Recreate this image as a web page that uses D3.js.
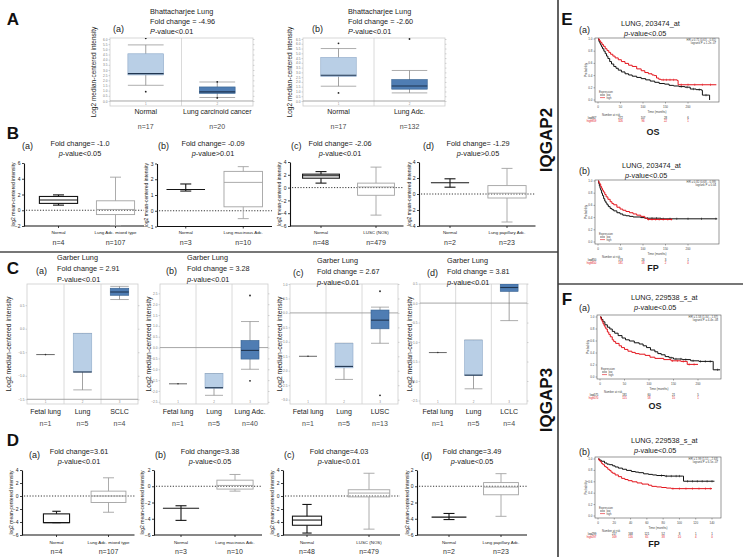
<!DOCTYPE html>
<html><head><meta charset="utf-8">
<script src="https://cdn.jsdelivr.net/npm/d3@7"></script>
<style>html,body{margin:0;padding:0;background:#fff}svg{display:block}</style>
</head><body>
<svg id="chart" width="743" height="557"></svg>
<script>
// ================= DATA =================
// ---- Panel A : Bhattacharjee Lung (Oncomine)
const catsAa = ["Normal", "Lung carcinoid cancer"];
const nAa = ["n=17", "n=20"];
const titleAa = ["Bhattacharjee Lung", "Fold change = -4.96", "P-value<0.01"];
const boxAa = [[1.52, 2.52, 2.65, 4.57, 5.43], [0.34, 0.74, 0.88, 1.36, 1.84]];
const outAa = [[6.07, 0.9], [1.86, 0.3]];
const ticksAa = [0, 0.5, 1, 1.5, 2, 2.5, 3, 3.5, 4, 4.5, 5, 5.5, 6];

const catsAb = ["Normal", "Lung Adc."];
const nAb = ["n=17", "n=132"];
const titleAb = ["Bhattacharjee Lung", "Fold change = -2.60", "P-value<0.01"];
const boxAb = [[1.55, 2.57, 2.7, 4.57, 5.5], [0.85, 1.24, 1.57, 2.25, 3.2]];
const outAb = [[6.05, 0.85], [6.5]];
const ticksAb = [0, 0.5, 1, 1.5, 2, 2.5, 3, 3.5, 4, 4.5, 5, 5.5, 6, 6.5];

// ---- Panel B (IQGAP2, GraphPad style)
const catsBa = ["Normal", "Lung Adc. mixed type"], nBa = ["n=4", "n=107"];
const titleBa = ["Fold change= -1.0", "p-value<0.05"];
const boxBa = [[0.65, 0.87, 1.3, 1.75, 1.95], [-1.95, -0.55, 0.1, 1.2, 4.2]];
const ticksBa = [-2, 0, 2, 4, 6];

const catsBb = ["Normal", "Lung mucinous Adc."], nBb = ["n=3", "n=10"];
const titleBb = ["Fold change= -0.09", "p-value>0.01"];
const boxBb = [[1.25, 1.35, 1.7], [-0.5, 0.25, 1.8, 2.5, 2.8]];
const ticksBb = [-1, 0, 1, 2, 3];

const catsBc = ["Normal", "LUSC (NOS)"], nBc = ["n=48", "n=479"];
const titleBc = ["Fold change= -2.06", "p-value<0.01"];
const boxBc = [[0.7, 1.47, 1.85, 2.1, 2.5], [-4.3, -1.2, 0.1, 0.7, 3.2]];
const ticksBc = [-6, -4, -2, 0, 2, 4];

const catsBd = ["Normal", "Lung papillary Adc."], nBd = ["n=2", "n=23"];
const titleBd = ["Fold change= -1.29", "p-value>0.05"];
const boxBd = [[0.85, 1.4, 1.9], [-3.5, -0.5, 0.1, 1.05, 3.2]];
const ticksBd = [-4, -2, 0, 2, 4];

// ---- Panel C : Garber Lung (Oncomine)
const catsCa = ["Fetal lung", "Lung", "SCLC"], nCa = ["n=1", "n=5", "n=4"];
const titleCa = ["Garber Lung", "Fold change = 2.91", "P-value<0.01"];
const boxCa = [[-0.55], [-1.3, -0.92, -0.92, -0.1, -0.1], [0.62, 0.71, 0.78, 0.86, 0.9]];
const outCa = [[], [], []];
const ticksCa = [-1.5, -1, -0.5, 0, 0.5];

const catsCb = ["Fetal lung", "Lung", "Lung Adc."], nCb = ["n=1", "n=5", "n=40"];
const titleCb = ["Garber Lung", "Fold change = 3.28", "p-value<0.01"];
const boxCb = [[-1.67], [-2.2, -1.87, -1.85, -1.2, -1.2], [-1.0, -0.53, -0.13, 0.33, 1.2]];
const outCb = [[], [], [2.4, -1.53]];
const ticksCb = [-2.5, -2, -1.5, -1, -0.5, 0, 0.5, 1, 1.5, 2, 2.5];

const catsCc = ["Fetal lung", "Lung", "LUSC"], nCc = ["n=1", "n=5", "n=13"];
const titleCc = ["Garber Lung", "Fold change = 2.67", "p-value<0.01"];
const boxCc = [[-1.5], [-2.3, -1.9, -1.85, -1.05, -1.05], [-1.05, -0.55, -0.25, 0.1, 0.2]];
const outCc = [[], [], [0.75, -2.85]];
const ticksCc = [-3, -2.5, -2, -1.5, -1, -0.5, 0, 0.5, 1];

const catsCd = ["Fetal lung", "Lung", "LCLC"], nCd = ["n=1", "n=5", "n=4"];
const titleCd = ["Garber Lung", "Fold change = 3.81", "p-value<0.01"];
const boxCd = [[-1.27], [-2.2, -1.85, -1.85, -0.95, -0.95], [-0.45, 0.3, 0.4, 0.49, 0.55]];
const outCd = [[], [], []];
const ticksCd = [-2.5, -2, -1.5, -1, -0.5, 0, 0.5];

// ---- Panel D (IQGAP3, GraphPad style)
const catsDa = ["Normal", "Lung Adc. mixed type"], nDa = ["n=4", "n=107"];
const titleDa = ["Fold change=3.61", "p-value<0.01"];
const boxDa = [[-4.1, -4.1, -4.1, -2.75, -2.35], [-2.5, -1.0, 0.0, 0.75, 2.8]];
const ticksDa = [-6, -4, -2, 0, 2, 4];

const catsDb = ["Normal", "Lung mucinous Adc."], nDb = ["n=3", "n=10"];
const titleDb = ["Fold change=3.38", "p-value<0.05"];
const boxDb = [[-4.2, -2.7, -2.4], [-0.6, -0.35, 0.1, 0.75, 1.45]];
const ticksDb = [-6, -4, -2, 0, 2];

const catsDc = ["Normal", "LUSC (NOS)"], nDc = ["n=48", "n=479"];
const titleDc = ["Fold change=4.03", "p-value<0.01"];
const boxDc = [[-5.7, -4.5, -3.7, -3.1, -1.3], [-5.1, -0.14, 0.45, 0.96, 3.5]];
const ticksDc = [-6, -4, -2, 0, 2, 4];

const catsDd = ["Normal", "Lung papillary Adc."], nDd = ["n=2", "n=23"];
const titleDd = ["Fold change=3.49", "p-value<0.05"];
const boxDd = [[-4.1, -3.8, -3.35], [-3.7, -1.05, -0.1, 0.45, 1.55]];
const ticksDd = [-6, -4, -2, 0, 2];

// ---- Panels E / F : Kaplan-Meier
const probTicks = [0, 0.2, 0.4, 0.6, 0.8, 1.0];
const timeTicksOS = [0, 50, 100, 150, 200];
const timeTicksFb = [0, 20, 40, 60, 80, 100, 120, 140];

const titleEa = ["LUNG, 203474_at", "p-value<0.05"];
const hrEa = ["HR = 0.71 (0.63 \u2212 0.81)", "logrank P = 1.2e\u221207"];
const lowEa = [[0,1],[2,0.96],[4,0.93],[6,0.9],[8,0.87],[10,0.84],[13,0.8],[16,0.76],[19,0.72],[22,0.68],[26,0.63],[30,0.59],[35,0.55],[40,0.52],[45,0.49],[52,0.46],[60,0.43],[68,0.41],[76,0.39],[86,0.37],[96,0.35],[106,0.33],[116,0.31],[126,0.29],[136,0.27],[148,0.26],[158,0.24],[168,0.23],[180,0.22],[193,0.21],[205,0.18],[218,0.17],[230,0.16],[232,0.08],[245,0.08],[248,0.0]];
const highEa = [[0,1],[3,0.97],[6,0.94],[9,0.91],[12,0.88],[16,0.84],[20,0.81],[24,0.78],[28,0.75],[33,0.72],[38,0.69],[45,0.66],[52,0.63],[60,0.6],[68,0.57],[76,0.55],[86,0.51],[96,0.48],[104,0.45],[112,0.43],[120,0.41],[125,0.4],[130,0.36],[135,0.34],[140,0.33],[176,0.32],[178,0.25],[263,0.25]];
const cenEaLow = [185, 198, 212, 225, 240];
const cenEaHigh = [145, 152, 160, 168, 185, 200, 215, 232, 250];
const riskEaLow = ["967", "272", "107", "28", "6"];
const riskEaHigh = ["959", "326", "96", "22", "1"];

const titleEb = ["LUNG, 203474_at", "p-value<0.05"];
const hrEb = ["HR = 0.82 (0.68 \u2212 0.99)", "logrank P = 0.04"];
const lowEb = [[0,1],[1.5,0.96],[3,0.92],[4.5,0.88],[6,0.85],[8,0.8],[10,0.76],[12.5,0.71],[15,0.67],[17.5,0.64],[20,0.61],[23,0.58],[27,0.55],[31,0.53],[35,0.51],[42,0.48],[49,0.46],[55,0.44],[62,0.43],[70,0.42],[78,0.41],[95,0.4],[104,0.39],[140,0.38],[265,0.38]];
const highEb = [[0,1],[2,0.97],[4,0.95],[6,0.91],[8,0.88],[10,0.85],[12,0.82],[15,0.78],[18,0.74],[22,0.7],[27,0.66],[31,0.63],[35,0.61],[42,0.57],[49,0.54],[55,0.52],[62,0.5],[70,0.48],[78,0.46],[86,0.44],[95,0.42],[104,0.39],[110,0.37],[165,0.37]];
const cenEbLow = [110, 120, 130, 145, 160, 175, 200, 230, 262];
const cenEbHigh = [112, 120, 128, 136, 145, 155, 163];
const riskEbLow = ["850", "173", "26", "3", "1"];
const riskEbHigh = ["850", "181", "18", "2", "0"];

const titleFa = ["LUNG, 229538_s_at", "p-value<0.05"];
const hrFa = ["HR = 1.58 (1.34 \u2212 1.87)", "logrank P = 4.4e\u221208"];
const lowFa = [[0,1],[3,0.96],[6,0.92],[10,0.87],[15,0.83],[20,0.8],[25,0.76],[30,0.73],[37,0.69],[45,0.65],[52,0.62],[60,0.6],[70,0.57],[80,0.55],[88,0.52],[95,0.49],[103,0.45],[112,0.42],[118,0.39],[125,0.37],[133,0.34],[141,0.32],[150,0.3],[168,0.29],[185,0.27],[202,0.26],[230,0.26],[231,0.12],[245,0.12]];
const highFa = [[0,1],[2,0.96],[4,0.93],[6,0.89],[8,0.86],[10,0.83],[12,0.8],[15,0.75],[18,0.71],[21,0.67],[25,0.62],[28,0.59],[32,0.56],[39,0.52],[44,0.49],[50,0.46],[57,0.43],[65,0.41],[72,0.39],[80,0.38],[92,0.36],[102,0.33],[112,0.31],[130,0.29],[145,0.27],[165,0.26],[178,0.21],[200,0.21]];
const cenFaLow = [145, 155, 165, 175, 190, 205, 215, 225, 240];
const cenFaHigh = [148, 158, 170, 182, 192];
const riskFaLow = ["575", "181", "60", "21", "5"];
const riskFaHigh = ["570", "115", "58", "15", "1"];

const titleFb = ["LUNG, 229538_s_at", "p-value<0.05"];
const hrFb = ["HR = 1.99 (1.51 \u2212 2.63)", "logrank P = 6.5e\u221207"];
const lowFb = [[0,1],[2,0.98],[4,0.96],[8,0.93],[11,0.91],[14,0.9],[18,0.88],[21,0.86],[25,0.84],[30,0.82],[35,0.8],[41,0.78],[46,0.77],[50,0.76],[56,0.74],[62,0.73],[67,0.72],[72,0.71],[82,0.7],[104,0.7],[105,0.61],[143,0.61]];
const highFb = [[0,1],[1.5,0.97],[3,0.95],[4.5,0.92],[6,0.9],[8,0.87],[10,0.85],[12,0.82],[14,0.8],[16,0.77],[18,0.75],[21,0.72],[25,0.69],[29,0.66],[33,0.64],[37,0.62],[42,0.6],[48,0.58],[54,0.56],[62,0.54],[66,0.52],[72,0.51],[78,0.5],[84,0.49],[90,0.48],[140,0.48]];
const cenFbLow = [78, 84, 90, 96, 100, 110, 116, 122, 128, 134, 140];
const cenFbHigh = [92, 100, 108, 116, 124, 132, 138];
const riskFbLow = ["299", "217", "168", "121", "52", "8", "1", "1"];
const riskFbHigh = ["297", "169", "116", "65", "38", "10", "4", "0"];

// ================= DRAWING =================
const svg = d3.select("#chart");
const FONT = "'Liberation Sans', Arial, Helvetica, sans-serif";
const defs = svg.append("defs");
svg.append("rect").attr("width", 743).attr("height", 557).attr("fill", "#fff");

function T(x, y, s, o = {}) {
  const t = svg.append("text")
    .attr("x", x).attr("y", y).attr("dy", "0.35em")
    .attr("font-family", FONT)
    .attr("font-size", o.size || 7)
    .attr("fill", o.fill || "#1b1b1b")
    .attr("text-anchor", o.anchor || "start")
    .attr("font-weight", o.weight || "normal");
  if (o.rot) t.attr("transform", `rotate(-90,${x},${y})`);
  if (o.ital) {
    t.append("tspan").attr("font-style", "italic").text(s[0]);
    t.append("tspan").text(s.slice(1));
  } else t.text(s);
  return t;
}

const LIGHT = "#b9cfe6", LIGHT_S = "#8ea9c8", DARK = "#4f7db3", DARK_S = "#34608f";

function onco(p) {
  const g = svg.append("g");
  const x = d3.scaleBand().domain(p.cats).range([p.x0, p.x1]);
  const y = d3.scaleLinear().domain(p.domain).range([p.y1, p.y0]);
  const cid = "clip" + p.id;
  defs.append("clipPath").attr("id", cid).append("rect")
    .attr("x", p.x0).attr("y", p.y0).attr("width", p.x1 - p.x0).attr("height", p.y1 - p.y0);
  g.append("rect").attr("x", p.x0).attr("y", p.y0).attr("width", p.x1 - p.x0).attr("height", p.y1 - p.y0)
    .attr("fill", "#fff").attr("stroke", "#cdcdcd").attr("stroke-width", 0.8);
  p.cats.slice(1).forEach(c => g.append("line").attr("x1", x(c)).attr("x2", x(c))
    .attr("y1", p.y0).attr("y2", p.y1).attr("stroke", "#d0d0d0").attr("stroke-width", 0.8));
  g.append("line").attr("x1", p.x0).attr("x2", p.x1).attr("y1", y(p.ref)).attr("y2", y(p.ref))
    .attr("stroke", "#9c9c9c").attr("stroke-width", 0.9);
  const al = g.append("g").attr("transform", `translate(${p.x0},0)`)
    .call(d3.axisLeft(y).tickValues(p.ticks).tickSize(1.5).tickPadding(1).tickFormat(d3.format(".1f")));
  al.select(".domain").remove();
  al.selectAll("line").attr("stroke", "#aaa").attr("stroke-width", 0.5);
  al.selectAll("text").attr("font-size", 3.2).attr("fill", "#777").attr("font-family", FONT);
  const ar = g.append("g").attr("transform", `translate(${p.x1},0)`)
    .call(d3.axisRight(y).tickValues(p.ticks).tickSize(1.5).tickFormat(""));
  ar.select(".domain").remove();
  ar.selectAll("line").attr("stroke", "#aaa").attr("stroke-width", 0.5);
  const inner = g.append("g").attr("clip-path", `url(#${cid})`);
  const bw = x.bandwidth() * p.boxFrac;
  p.boxes.forEach((b, i) => {
    const cx = x(p.cats[i]) + x.bandwidth() / 2;
    if (b.length === 1) {
      inner.append("line").attr("x1", cx - bw / 2).attr("x2", cx + bw / 2)
        .attr("y1", y(b[0])).attr("y2", y(b[0])).attr("stroke", "#555").attr("stroke-width", 0.9);
      inner.append("circle").attr("cx", cx).attr("cy", y(b[0])).attr("r", 0.8).attr("fill", "#333");
      return;
    }
    const [mn, q1, md, q3, mx] = b;
    const fill = p.fills[i] === "L" ? LIGHT : DARK;
    const st = p.fills[i] === "L" ? LIGHT_S : DARK_S;
    inner.append("line").attr("x1", cx).attr("x2", cx).attr("y1", y(mx)).attr("y2", y(mn))
      .attr("stroke", "#7a7a7a").attr("stroke-width", 0.7);
    [mn, mx].forEach(v => inner.append("line").attr("x1", cx - bw / 2).attr("x2", cx + bw / 2)
      .attr("y1", y(v)).attr("y2", y(v)).attr("stroke", "#8a8a8a").attr("stroke-width", 0.7));
    inner.append("rect").attr("x", cx - bw / 2).attr("width", bw).attr("y", y(q3))
      .attr("height", Math.max(0.5, y(q1) - y(q3))).attr("fill", fill).attr("stroke", st).attr("stroke-width", 0.6);
    inner.append("line").attr("x1", cx - bw / 2).attr("x2", cx + bw / 2).attr("y1", y(md)).attr("y2", y(md))
      .attr("stroke", "#1f3550").attr("stroke-width", 1.1);
    (p.outs[i] || []).forEach(v => inner.append("circle").attr("cx", cx).attr("cy", y(v)).attr("r", 0.9).attr("fill", "#222"));
  });
  p.cats.forEach((c, i) => {
    const cx = x(c) + x.bandwidth() / 2;
    T(cx, p.y1 - 2.5, String(i + 1), { size: 3, fill: "#888", anchor: "middle" });
    T(cx, p.labY, c, { size: p.labSize, anchor: "middle" });
    T(cx, p.nY, p.ns[i], { size: 7, fill: "#4a4a4a", anchor: "middle" });
  });
  T(p.ylabX, (p.y0 + p.y1) / 2, "Log2 median-centered intensity", { size: p.ylabSize, rot: true, anchor: "middle" });
  T(p.tagX, p.tagY, p.tag, { size: 9 });
  p.title.forEach((s, k) => T(p.titleX, p.titleY + k * p.gap, s, { size: 7.3, ital: p.italRow === k }));
}

function gp(p) {
  const g = svg.append("g");
  const y = d3.scaleLinear().domain(p.domain).range([p.yb, p.yt]);
  const x = d3.scaleBand().domain(p.cats).range(p.band);
  const bw = x.bandwidth() * 0.67;
  const al = g.append("g").attr("transform", `translate(${p.ax},0)`)
    .call(d3.axisLeft(y).tickValues(p.ticks).tickSize(2).tickSizeOuter(0).tickPadding(1.5).tickFormat(d3.format("d")));
  al.select(".domain").attr("stroke", "#111").attr("stroke-width", 1.1);
  al.selectAll(".tick line").attr("stroke", "#111").attr("stroke-width", 0.8);
  al.selectAll("text").attr("font-size", 5).attr("font-family", FONT).attr("fill", "#222");
  const yb = y(p.domain[0]);
  g.append("line").attr("x1", p.ax).attr("x2", p.band[1]).attr("y1", yb).attr("y2", yb)
    .attr("stroke", "#111").attr("stroke-width", 1.1);
  g.append("line").attr("x1", p.ax + 2).attr("x2", p.band[1]).attr("y1", y(0)).attr("y2", y(0))
    .attr("stroke", "#222").attr("stroke-width", 0.9).attr("stroke-dasharray", "1.2,1.6");
  p.items.forEach((b, i) => {
    const cx = x(p.cats[i]) + x.bandwidth() / 2;
    g.append("line").attr("x1", cx).attr("x2", cx).attr("y1", yb).attr("y2", yb + 2).attr("stroke", "#111").attr("stroke-width", 0.8);
    const col = i === 0 ? "#151515" : "#a3a3a3";
    const sw = i === 0 ? 1.1 : 0.9;
    const w = i === 0 ? bw * (p.normFrac || 1) : bw;
    const cap = Math.min(11, w * 0.32);
    const L = (x1, x2, y1, y2) => g.append("line").attr("x1", x1).attr("x2", x2).attr("y1", y1).attr("y2", y2)
      .attr("stroke", col).attr("stroke-width", sw);
    if (b.length === 3) {
      const [lo, mean, hi] = b;
      L(cx - w / 2, cx + w / 2, y(mean), y(mean));
      L(cx, cx, y(hi), y(lo));
      L(cx - cap / 2, cx + cap / 2, y(hi), y(hi));
      L(cx - cap / 2, cx + cap / 2, y(lo), y(lo));
    } else {
      const [mn, q1, md, q3, mx] = b;
      L(cx, cx, y(mx), y(q3));
      L(cx, cx, y(q1), y(mn));
      L(cx - cap / 2, cx + cap / 2, y(mx), y(mx));
      L(cx - cap / 2, cx + cap / 2, y(mn), y(mn));
      g.append("rect").attr("x", cx - w / 2).attr("width", w).attr("y", y(q3)).attr("height", y(q1) - y(q3))
        .attr("fill", "none").attr("stroke", col).attr("stroke-width", sw);
      L(cx - w / 2, cx + w / 2, y(md), y(md));
    }
    T(cx, p.labY, p.cats[i], { size: 4.4, anchor: "middle" });
    T(cx, p.nY, p.ns[i], { size: 7, anchor: "middle", fill: "#333" });
  });
  T(p.ylabX, (p.yt + p.yb) / 2, "log2 mean-centered intensity", { size: 5, rot: true, anchor: "middle" });
  T(p.tagX, p.tagY, p.tag, { size: 9 });
  p.title.forEach((s, k) => T(p.titleX, p.titleY + k * 10, s, { size: 7.3, anchor: "middle", ital: k === 1 }));
}

function stepAt(data, t) {
  let v = data[0][1];
  data.forEach(d => { if (d[0] <= t) v = d[1]; });
  return v;
}

function km(p) {
  const g = svg.append("g");
  const x = d3.scaleLinear().domain([0, p.tMax]).range([p.xt0, p.xt1]);
  const y = d3.scaleLinear().domain([0, 1]).range([p.yp0, p.yp1]);
  g.append("rect").attr("x", p.x0).attr("y", p.y0).attr("width", p.x1 - p.x0).attr("height", p.y1 - p.y0)
    .attr("fill", "#fff").attr("stroke", "#555").attr("stroke-width", 0.6);
  probTicks.forEach(v => {
    g.append("line").attr("x1", p.x0 - 1.5).attr("x2", p.x0).attr("y1", y(v)).attr("y2", y(v)).attr("stroke", "#555").attr("stroke-width", 0.5);
    T(p.x0 - 2.5, y(v), v.toFixed(1), { size: 3, anchor: "end", fill: "#444" });
  });
  p.tTicks.forEach(t => {
    g.append("line").attr("x1", x(t)).attr("x2", x(t)).attr("y1", p.y1).attr("y2", p.y1 + 1.5).attr("stroke", "#555").attr("stroke-width", 0.5);
    T(x(t), p.y1 + 4.5, String(t), { size: 3, anchor: "middle", fill: "#444" });
  });
  T(p.x0 - 9, (p.y0 + p.y1) / 2, "Probability", { size: 3, rot: true, anchor: "middle", fill: "#444" });
  T((p.x0 + p.x1) / 2, p.y1 + 9.5, "Time (months)", { size: 3, anchor: "middle", fill: "#444" });
  const line = d3.line().x(d => x(d[0])).y(d => y(d[1])).curve(d3.curveStepAfter);
  [[p.low, "#111", p.cenLow], [p.high, "#e3141c", p.cenHigh]].forEach(([data, col, cen]) => {
    g.append("path").attr("d", line(data)).attr("fill", "none").attr("stroke", col).attr("stroke-width", 1);
    cen.forEach(t => {
      const v = stepAt(data, t);
      g.append("line").attr("x1", x(t)).attr("x2", x(t)).attr("y1", y(v) - 1.2).attr("y2", y(v) + 1.2)
        .attr("stroke", col).attr("stroke-width", 0.5);
    });
  });
  T(p.x0 + 4, p.y1 - 10, "Expression", { size: 2.8, fill: "#444" });
  [["low", "#111"], ["high", "#e3141c"]].forEach(([s, c], k) => {
    const yy = p.y1 - 7 + k * 2.6;
    g.append("line").attr("x1", p.x0 + 5).attr("x2", p.x0 + 10).attr("y1", yy).attr("y2", yy).attr("stroke", c).attr("stroke-width", 0.6);
    T(p.x0 + 11.5, yy, s, { size: 2.6, fill: "#444" });
  });
  T(p.x1 - 3, p.y0 + 2.5, p.hr[0], { size: 2.8, anchor: "end", fill: "#444" });
  T(p.x1 - 3, p.y0 + 5.3, p.hr[1], { size: 2.8, anchor: "end", fill: "#444" });
  T(p.xt0 + 4, p.y1 + 13.5, "Number at risk", { size: 2.8, fill: "#444" });
  [[p.riskLow, "low", "#222"], [p.riskHigh, "high", "#e3141c"]].forEach(([arr, lab, c], k) => {
    const yy = p.y1 + 16.5 + k * 2.9;
    T(x(0) - 6, yy, lab, { size: 2.8, anchor: "end", fill: c });
    arr.forEach((s, j) => T(x(p.tTicks[j]) - (j === 0 ? 4 : 0), yy, s, { size: 2.8, anchor: "middle", fill: c }));
  });
  T(p.tagX, p.tagY, p.tag, { size: 9 });
  T(p.titleX, p.titleY, p.title[0], { size: 7.3 });
  T(p.titleX + 3, p.titleY + 10, p.title[1], { size: 7.3, ital: true });
  T((p.x0 + p.x1) / 2 - 4, p.labY, p.lab, { size: 9, weight: "bold", anchor: "middle" });
}

// ---- separators
svg.append("line").attr("x1", 0).attr("x2", 558).attr("y1", 252).attr("y2", 252).attr("stroke", "#777").attr("stroke-width", 2);
svg.append("line").attr("x1", 558).attr("x2", 743).attr("y1", 284).attr("y2", 284).attr("stroke", "#777").attr("stroke-width", 2);
svg.append("line").attr("x1", 558).attr("x2", 558).attr("y1", 0).attr("y2", 557).attr("stroke", "#3a3a3a").attr("stroke-width", 1.6);

// ---- panel letters
[["A", 13, 19], ["B", 13, 133], ["C", 13, 268], ["D", 13, 440], ["E", 567, 19], ["F", 567, 299]]
  .forEach(([s, xx, yy]) => T(xx, yy, s, { size: 17, weight: "bold", anchor: "middle", fill: "#111" }));
T(546, 140, "IQGAP2", { size: 17, weight: "bold", rot: true, anchor: "middle", fill: "#111" });
T(546, 400, "IQGAP3", { size: 17, weight: "bold", rot: true, anchor: "middle", fill: "#111" });

// ---- A
onco({ id: "Aa", cats: catsAa, ns: nAa, boxes: boxAa, outs: outAa, ticks: ticksAa, fills: ["L", "D"],
  x0: 110, x1: 253, y0: 38, y1: 106, domain: [-0.484, 6.097], ref: 0, boxFrac: 0.5,
  labY: 112, labSize: 7, nY: 127, ylabX: 94, ylabSize: 6.5,
  tag: "(a)", tagX: 113, tagY: 29, title: titleAa, titleX: 150, titleY: 11, gap: 10, italRow: 2 });
onco({ id: "Ab", cats: catsAb, ns: nAb, boxes: boxAb, outs: outAb, ticks: ticksAb, fills: ["L", "D"],
  x0: 303, x1: 445, y0: 38, y1: 106, domain: [-0.524, 6.605], ref: 0, boxFrac: 0.5,
  labY: 112, labSize: 7, nY: 127, ylabX: 290, ylabSize: 6.5,
  tag: "(b)", tagX: 312, tagY: 29, title: titleAb, titleX: 348, titleY: 11, gap: 10, italRow: 2 });

// ---- B
gp({ cats: catsBa, ns: nBa, items: boxBa, ticks: ticksBa, domain: [-2, 6], yb: 226, yt: 163, ax: 24, band: [30, 144],
  labY: 232, nY: 243, ylabX: 13, tag: "(a)", tagX: 22, tagY: 146, title: titleBa, titleX: 80, titleY: 143 });
gp({ cats: catsBb, ns: nBb, items: boxBb, ticks: ticksBb, domain: [-1, 3], yb: 226.5, yt: 163.5, ax: 157, band: [157, 272],
  labY: 232, nY: 243, ylabX: 146, tag: "(b)", tagX: 158, tagY: 146, title: titleBb, titleX: 213, titleY: 143 });
gp({ cats: catsBc, ns: nBc, items: boxBc, ticks: ticksBc, domain: [-6, 4], yb: 226, yt: 162, ax: 290, band: [293.5, 403.5],
  labY: 232, nY: 243, ylabX: 279, tag: "(c)", tagX: 291, tagY: 146, title: titleBc, titleX: 340, titleY: 143 });
gp({ cats: catsBd, ns: nBd, items: boxBd, ticks: ticksBd, domain: [-4, 4], yb: 226, yt: 162, ax: 419, band: [421.5, 535.5],
  labY: 232, nY: 243, ylabX: 409, tag: "(d)", tagX: 423, tagY: 146, title: titleBd, titleX: 478, titleY: 143 });

// ---- C
onco({ id: "Ca", cats: catsCa, ns: nCa, boxes: boxCa, outs: outCa, ticks: ticksCa, fills: ["L", "L", "D"],
  x0: 27, x1: 138, y0: 284, y1: 404, domain: [-1.6, 0.95], ref: -1.5, boxFrac: 0.5,
  labY: 412, labSize: 7, nY: 424, ylabX: 9, ylabSize: 6.8,
  tag: "(a)", tagX: 36, tagY: 271, title: titleCa, titleX: 57, titleY: 257, gap: 11, italRow: -1 });
onco({ id: "Cb", cats: catsCb, ns: nCb, boxes: boxCb, outs: outCb, ticks: ticksCb, fills: ["L", "L", "D"],
  x0: 160, x1: 268, y0: 284, y1: 404, domain: [-2.6, 2.93], ref: 0, boxFrac: 0.5,
  labY: 412, labSize: 7, nY: 424, ylabX: 149, ylabSize: 6.8,
  tag: "(b)", tagX: 166, tagY: 271, title: titleCb, titleX: 187, titleY: 257, gap: 11, italRow: 2 });
onco({ id: "Cc", cats: catsCc, ns: nCc, boxes: boxCc, outs: outCc, ticks: ticksCc, fills: ["L", "L", "D"],
  x0: 290, x1: 398, y0: 284, y1: 404, domain: [-3.15, 1.0], ref: 0, boxFrac: 0.5,
  labY: 412, labSize: 7, nY: 424, ylabX: 280, ylabSize: 6.8,
  tag: "(c)", tagX: 293, tagY: 273, title: titleCc, titleX: 317, titleY: 260, gap: 11, italRow: 2 });
onco({ id: "Cd", cats: catsCd, ns: nCd, boxes: boxCd, outs: outCd, ticks: ticksCd, fills: ["L", "L", "D"],
  x0: 420, x1: 527, y0: 284, y1: 404, domain: [-2.59, 0.49], ref: 0, boxFrac: 0.5,
  labY: 412, labSize: 7, nY: 424, ylabX: 410, ylabSize: 6.8,
  tag: "(d)", tagX: 427, tagY: 273, title: titleCd, titleX: 447, titleY: 260, gap: 11, italRow: 2 });

// ---- D
gp({ cats: catsDa, ns: nDa, items: boxDa, ticks: ticksDa, domain: [-6, 4], yb: 535, yt: 470, ax: 22, band: [30.5, 134.5], normFrac: 0.75,
  labY: 542, nY: 552, ylabX: 11, tag: "(a)", tagX: 29, tagY: 455, title: titleDa, titleX: 79, titleY: 451 });
gp({ cats: catsDb, ns: nDb, items: boxDb, ticks: ticksDb, domain: [-6, 2], yb: 535, yt: 470, ax: 154, band: [154, 262],
  labY: 542, nY: 552, ylabX: 142, tag: "(b)", tagX: 155, tagY: 455, title: titleDb, titleX: 210, titleY: 451 });
gp({ cats: catsDc, ns: nDc, items: boxDc, ticks: ticksDc, domain: [-6, 4], yb: 535, yt: 470, ax: 283, band: [276, 400], normFrac: 0.7,
  labY: 542, nY: 552, ylabX: 272, tag: "(c)", tagX: 284, tagY: 455, title: titleDc, titleX: 339, titleY: 451 });
gp({ cats: catsDd, ns: nDd, items: boxDd, ticks: ticksDd, domain: [-6, 2], yb: 535, yt: 470, ax: 417, band: [423, 527],
  labY: 542, nY: 552, ylabX: 407, tag: "(d)", tagX: 421, tagY: 456, title: titleDd, titleX: 472, titleY: 451 });

// ---- E / F
km({ x0: 595, x1: 719, y0: 38, y1: 102, tMax: 200, xt0: 598, xt1: 688, yp0: 100, yp1: 39, tTicks: timeTicksOS,
  low: lowEa, high: highEa, cenLow: cenEaLow, cenHigh: cenEaHigh, riskLow: riskEaLow, riskHigh: riskEaHigh, hr: hrEa,
  tag: "(a)", tagX: 579, tagY: 30, title: titleEa, titleX: 621, titleY: 23, lab: "OS", labY: 132 });
km({ x0: 595, x1: 719, y0: 180, y1: 244, tMax: 200, xt0: 598, xt1: 688, yp0: 242, yp1: 181, tTicks: timeTicksOS,
  low: lowEb, high: highEb, cenLow: cenEbLow, cenHigh: cenEbHigh, riskLow: riskEbLow, riskHigh: riskEbHigh, hr: hrEb,
  tag: "(b)", tagX: 579, tagY: 171, title: titleEb, titleX: 622, titleY: 165, lab: "FP", labY: 268 });
km({ x0: 597, x1: 721, y0: 315, y1: 379, tMax: 200, xt0: 600, xt1: 698, yp0: 377, yp1: 317, tTicks: timeTicksOS,
  low: lowFa, high: highFa, cenLow: cenFaLow, cenHigh: cenFaHigh, riskLow: riskFaLow, riskHigh: riskFaHigh, hr: hrFa,
  tag: "(a)", tagX: 579, tagY: 308, title: titleFa, titleX: 631, titleY: 297, lab: "OS", labY: 406 });
km({ x0: 595, x1: 721, y0: 457, y1: 518, tMax: 140, xt0: 598, xt1: 712, yp0: 516, yp1: 459, tTicks: timeTicksFb,
  low: lowFb, high: highFb, cenLow: cenFbLow, cenHigh: cenFbHigh, riskLow: riskFbLow, riskHigh: riskFbHigh, hr: hrFb,
  tag: "(b)", tagX: 579, tagY: 452, title: titleFb, titleX: 631, titleY: 440, lab: "FP", labY: 544 });
</script>
</body></html>
